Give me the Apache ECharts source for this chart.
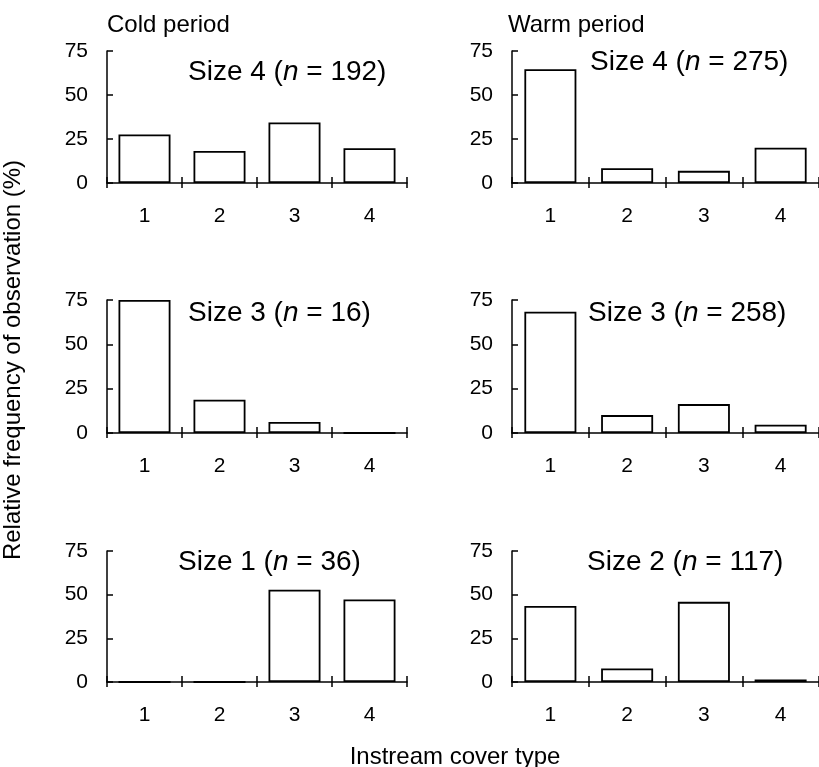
<!DOCTYPE html>
<html>
<head>
    <meta charset="utf-8">
    <title>Instream cover type</title>
    <script src="https://cdn.jsdelivr.net/npm/echarts@6/dist/echarts.min.js"></script>
    <style>
        html, body { margin: 0; padding: 0; background: #fff; }
        #chart { width: 819px; height: 767px; }
    </style>
</head>
<body>
<div id="chart"></div>
<script type="text/javascript">
    // 数据
    var categories = ['1', '2', '3', '4'];
    var yTickValues = [0, 25, 50, 75];

    var coldSize4 = [27.6, 18.2, 34.4, 19.8];
    var warmSize4 = [64.7, 8.4, 6.9, 20.0];
    var coldSize3 = [75.0, 18.8, 6.2, 0];
    var warmSize3 = [68.4, 10.1, 16.3, 4.7];
    var coldSize1 = [0, 0, 52.8, 47.2];
    var warmSize2 = [43.5, 7.7, 45.9, 1.5];

    var panelSizes = ['4', '4', '3', '3', '1', '2'];
    var panelN = ['192', '275', '16', '258', '36', '117'];
    var panelData = [coldSize4, warmSize4, coldSize3, warmSize3, coldSize1, warmSize2];

    // 布局
    var colLeft = [107, 512];
    var colWidth = [300, 307];
    var rowTop = [51, 300, 551];
    var rowHeight = [132, 133, 131];
    var titlePos = [[188, 72], [590, 62], [188, 313], [588, 313], [178, 562], [587, 562]];

    var font = 'Liberation Sans, Arial, Helvetica, sans-serif';
    var yMax = yTickValues[yTickValues.length - 1];
    var yStep = yTickValues[1] - yTickValues[0];

    var myChart = echarts.init(document.getElementById('chart'));

    var grid = [], xAxis = [], yAxis = [], series = [], title = [];

    for (var i = 0; i < 6; i++) {
        var row = Math.floor(i / 2), col = i % 2;
        grid.push({
            left: colLeft[col], top: rowTop[row],
            width: colWidth[col], height: rowHeight[row]
        });
        // 主x轴：线、标签、向下的刻度
        xAxis.push({
            type: 'category', gridIndex: i, data: categories,
            axisLine: {lineStyle: {color: '#000', width: 1.5}},
            axisTick: {show: true, length: 5, lineStyle: {color: '#000', width: 1.5}},
            axisLabel: {color: '#000', fontSize: 21, fontFamily: font, margin: 23},
            splitLine: {show: false}
        });
        // 副x轴：只画向上的刻度
        xAxis.push({
            type: 'category', gridIndex: i, data: categories, position: 'bottom',
            axisLine: {show: false},
            axisTick: {show: true, inside: true, length: 6, lineStyle: {color: '#000', width: 1.5}},
            axisLabel: {show: false},
            splitLine: {show: false}
        });
        yAxis.push({
            type: 'value', gridIndex: i, min: 0, max: yMax, interval: yStep,
            axisLine: {show: true, lineStyle: {color: '#000', width: 1.5}},
            axisTick: {show: true, inside: true, length: 6, lineStyle: {color: '#000', width: 1.5}},
            axisLabel: {color: '#000', fontSize: 21, fontFamily: font, margin: 19},
            splitLine: {show: false}
        });
        series.push({
            type: 'bar', xAxisIndex: i * 2, yAxisIndex: i,
            data: panelData[i], barWidth: 52,
            itemStyle: {color: '#fff', borderColor: '#000', borderWidth: 1.8},
            silent: true
        });
        title.push({
            text: '{a|Size ' + panelSizes[i] + ' (}{i|n}{a| = ' + panelN[i] + ')}',
            left: titlePos[i][0], top: titlePos[i][1] - 15, padding: 0,
            textStyle: {
                fontWeight: 'normal',
                rich: {
                    a: {fontSize: 28, fontFamily: font, fontWeight: 'normal', color: '#000', lineHeight: 30},
                    i: {fontSize: 28, fontFamily: font, fontWeight: 'normal', color: '#000', fontStyle: 'italic', lineHeight: 30}
                }
            }
        });
    }

    var option = {
        animation: false,
        backgroundColor: '#fff',
        title: title,
        grid: grid,
        xAxis: xAxis,
        yAxis: yAxis,
        series: series,
        graphic: [
            {type: 'text', x: 107, y: 25, style: {text: 'Cold period', font: '24px ' + font, fill: '#000', verticalAlign: 'middle'}},
            {type: 'text', x: 508, y: 25, style: {text: 'Warm period', font: '24px ' + font, fill: '#000', verticalAlign: 'middle'}},
            {type: 'text', x: 455, y: 757, style: {text: 'Instream cover type', font: '24px ' + font, fill: '#000', align: 'center', verticalAlign: 'middle'}},
            {type: 'text', x: 13, y: 360, rotation: Math.PI / 2, style: {text: 'Relative frequency of observation (%)', font: '24px ' + font, fill: '#000', align: 'center', verticalAlign: 'middle'}}
        ]
    };

    myChart.setOption(option);
</script>
</body>
</html>
